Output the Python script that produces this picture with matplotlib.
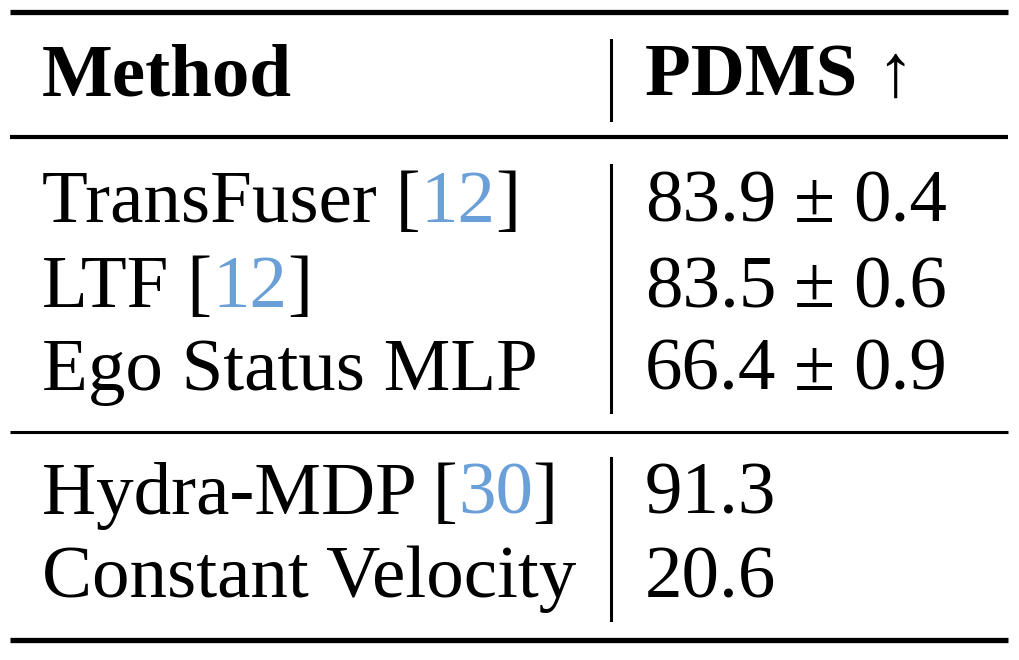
import matplotlib
matplotlib.use("Agg")
import matplotlib.pyplot as plt

methods = ["TransFuser", "LTF", "Ego Status MLP", "Hydra-MDP", "Constant Velocity"]
cites = ["12", "12", None, "30", None]
pdms_mean = ["83.9", "83.5", "66.4", "91.3", "20.6"]
pdms_std = ["0.4", "0.6", "0.9", None, None]
groups = [0, 0, 0, 1, 1]

W, H = 1020, 660
fig = plt.figure(figsize=(W/100, H/100), dpi=100)
ax = fig.add_axes([0, 0, 1, 1])
ax.set_xlim(0, W); ax.set_ylim(H, 0); ax.axis("off")
FS = 54
fam = ["Liberation Serif", "DejaVu Serif"]
cite_col = "#6a9fd8"
fig.canvas.draw()
r = fig.canvas.get_renderer()

def seg_text(x, y, parts):
    for part in parts:
        s, c, w = part[:3]
        pad = part[3] if len(part) > 3 else 0
        x += pad
        t = ax.text(x, y, s, fontsize=FS, family=fam, color=c, weight=w, va="baseline", ha="left")
        bb = t.get_window_extent(renderer=r)
        x += bb.width

# rules
for y, lw in [(12, 3.8), (137, 3.0), (432, 2.2), (640, 3.8)]:
    ax.plot([10, 1008], [y, y], color="black", lw=lw, solid_capstyle="butt")
for y0, y1 in [(40, 120), (165, 412), (458, 620)]:
    ax.plot([611, 611], [y0, y1], color="black", lw=2.2)

seg_text(42, 96, [("Method", "black", "bold")])
seg_text(645, 96, [("PDMS ", "black", "bold"), ("↑", "black", "normal")])

ybase = {0: [222, 307, 390], 1: [514, 597]}
idx = {0: 0, 1: 0}
for m, c, pm, ps, g in zip(methods, cites, pdms_mean, pdms_std, groups):
    y = ybase[g][idx[g]]; idx[g] += 1
    parts = [(m, "black", "normal")]
    if c:
        parts = [(m + " [", "black", "normal"), (c, cite_col, "normal"), ("]", "black", "normal")]
    seg_text(42, y, parts)
    vparts = [(pm, "black", "normal")]
    if ps:
        vparts += [("±", "black", "normal", 18), (ps, "black", "normal", 18)]
    seg_text(645, y, vparts)

fig.savefig("out.png", dpi=100)
